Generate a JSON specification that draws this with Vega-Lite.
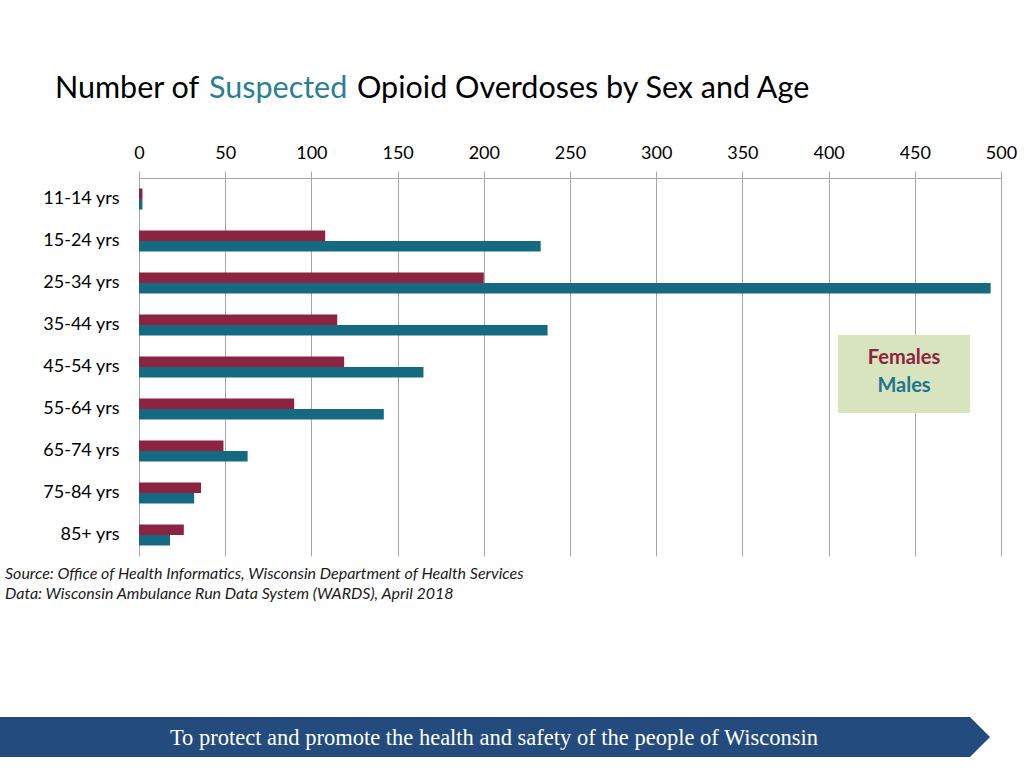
{
  "$schema": "https://vega.github.io/schema/vega-lite/v6.json",
  "width": 862,
  "height": 378,
  "autosize": {"type": "none"},
  "padding": {"left": 139, "top": 178, "right": 23, "bottom": 212},
  "background": "white",
  "config": {"view": {"stroke": null}, "font": "Lato"},
  "layer": [
    {
      "data": {
        "values": [
          {"age": "11-14 yrs", "sex": "Females", "count": 2},
          {"age": "11-14 yrs", "sex": "Males", "count": 2},
          {"age": "15-24 yrs", "sex": "Females", "count": 108},
          {"age": "15-24 yrs", "sex": "Males", "count": 233},
          {"age": "25-34 yrs", "sex": "Females", "count": 200},
          {"age": "25-34 yrs", "sex": "Males", "count": 494},
          {"age": "35-44 yrs", "sex": "Females", "count": 115},
          {"age": "35-44 yrs", "sex": "Males", "count": 237},
          {"age": "45-54 yrs", "sex": "Females", "count": 119},
          {"age": "45-54 yrs", "sex": "Males", "count": 165},
          {"age": "55-64 yrs", "sex": "Females", "count": 90},
          {"age": "55-64 yrs", "sex": "Males", "count": 142},
          {"age": "65-74 yrs", "sex": "Females", "count": 49},
          {"age": "65-74 yrs", "sex": "Males", "count": 63},
          {"age": "75-84 yrs", "sex": "Females", "count": 36},
          {"age": "75-84 yrs", "sex": "Males", "count": 32},
          {"age": "85+ yrs", "sex": "Females", "count": 26},
          {"age": "85+ yrs", "sex": "Males", "count": 18}
        ]
      },
      "mark": {"type": "bar"},
      "encoding": {
        "y": {
          "field": "age",
          "type": "nominal",
          "sort": ["11-14 yrs", "15-24 yrs", "25-34 yrs", "35-44 yrs", "45-54 yrs", "55-64 yrs", "65-74 yrs", "75-84 yrs", "85+ yrs"],
          "scale": {"paddingInner": 0.5, "paddingOuter": 0.25},
          "axis": {"title": null, "ticks": false, "domain": false, "grid": false, "labelFontSize": 18, "labelColor": "#000000", "labelPadding": 20, "labelFont": "Lato"}
        },
        "yOffset": {"field": "sex", "type": "nominal", "sort": ["Females", "Males"], "scale": {"paddingInner": 0, "paddingOuter": 0}},
        "x": {
          "field": "count",
          "type": "quantitative",
          "scale": {"domain": [0, 500], "nice": false},
          "axis": {"orient": "top", "title": null, "values": [0, 50, 100, 150, 200, 250, 300, 350, 400, 450, 500], "grid": true, "gridColor": "#a6a6a6", "domainColor": "#a6a6a6", "tickColor": "#a6a6a6", "tickSize": 7, "labelFontSize": 18, "labelColor": "#000000", "labelPadding": 9, "labelFont": "Lato", "labelFlush": false}
        },
        "color": {
          "field": "sex",
          "type": "nominal",
          "scale": {"domain": ["Females", "Males"], "range": ["#8b2341", "#156a82"]},
          "legend": {
            "title": null,
            "orient": "none",
            "legendX": 745,
            "legendY": 170,
            "padding": 0,
            "symbolSize": 0,
            "symbolStrokeWidth": 0,
            "symbolOpacity": 0,
            "labelOffset": 0,
            "labelAlign": "center",
            "labelFontSize": 20,
            "labelFontWeight": "bold",
            "labelFont": "Lato",
            "rowPadding": 8,
            "encode": {"labels": {"update": {"fill": [{"test": "datum.value === 'Females'", "value": "#8b2341"}, {"value": "#1d7590"}]}}}
          }
        }
      }
    },
    {
      "data": {"values": [{}]},
      "mark": {"type": "rect", "color": "#d7e4bd", "opacity": 1},
      "encoding": {"x": {"value": 699}, "x2": {"value": 831}, "y": {"value": 157}, "y2": {"value": 235}}
    },
    {
      "data": {"values": [{}]},
      "mark": {"type": "text", "text": "Number of", "align": "left", "baseline": "alphabetic", "fontSize": 30.5, "font": "Lato", "color": "#000000"},
      "encoding": {"x": {"value": -84}, "y": {"value": -80}}
    },
    {
      "data": {"values": [{}]},
      "mark": {"type": "text", "text": "Suspected", "align": "left", "baseline": "alphabetic", "fontSize": 30.5, "font": "Lato", "color": "#2a7f96"},
      "encoding": {"x": {"value": 70}, "y": {"value": -80}}
    },
    {
      "data": {"values": [{}]},
      "mark": {"type": "text", "text": "Opioid Overdoses by Sex and Age", "align": "left", "baseline": "alphabetic", "fontSize": 30.5, "font": "Lato", "color": "#000000"},
      "encoding": {"x": {"value": 218}, "y": {"value": -80}}
    },
    {
      "data": {"values": [{}]},
      "mark": {"type": "text", "text": "Source: Office of Health Informatics, Wisconsin Department of Health Services", "align": "left", "baseline": "alphabetic", "fontSize": 16, "font": "Lato", "fontStyle": "italic", "color": "#1a1a1a"},
      "encoding": {"x": {"value": -134}, "y": {"value": 401}}
    },
    {
      "data": {"values": [{}]},
      "mark": {"type": "text", "text": "Data: Wisconsin Ambulance Run Data System (WARDS), April 2018", "align": "left", "baseline": "alphabetic", "fontSize": 16, "font": "Lato", "fontStyle": "italic", "color": "#1a1a1a"},
      "encoding": {"x": {"value": -134}, "y": {"value": 421}}
    },
    {
      "data": {"values": [{}]},
      "mark": {"type": "point", "shape": "M-1,-0.0404L0.9596,-0.0404L1,0L0.9596,0.0404L-1,0.0404Z", "filled": true, "opacity": 1, "color": "#234b7d", "size": 980100, "strokeWidth": 0},
      "encoding": {"x": {"value": 356}, "y": {"value": 559}}
    },
    {
      "data": {"values": [{}]},
      "mark": {"type": "text", "text": "To protect and promote the health and safety of the people of Wisconsin", "align": "center", "baseline": "alphabetic", "fontSize": 22.5, "font": "Liberation Serif", "color": "#ffffff"},
      "encoding": {"x": {"value": 355}, "y": {"value": 567}}
    }
  ]
}
